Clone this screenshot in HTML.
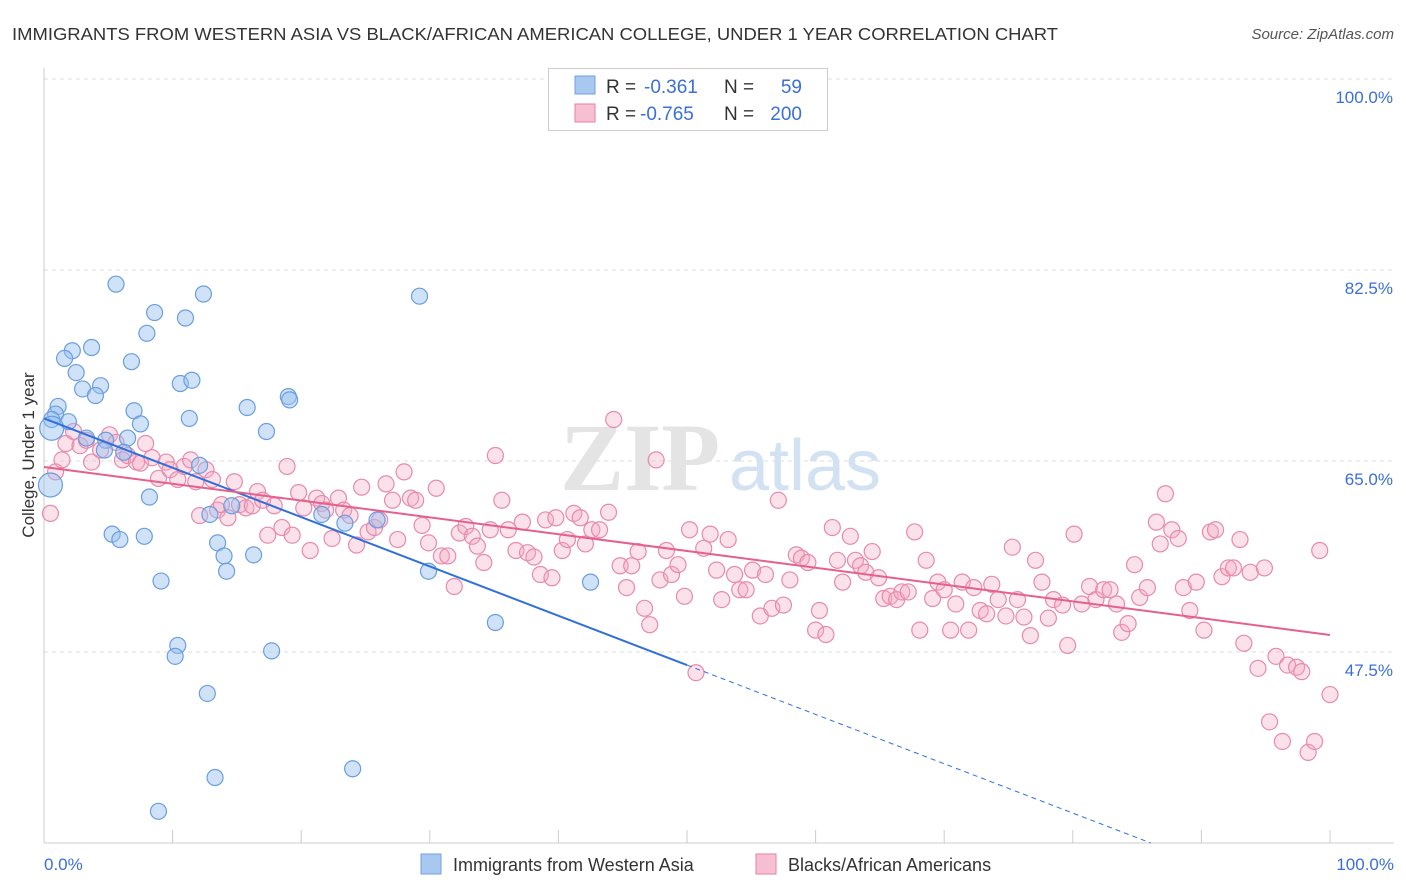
<!DOCTYPE html>
<html><head><meta charset="utf-8">
<style>
body{margin:0;background:#fff;font-family:"Liberation Sans",sans-serif;}
#wrap{position:relative;width:1406px;height:892px;overflow:hidden;}
</style></head>
<body>
<div id="wrap">
<svg id="chart" width="1406" height="892" xmlns="http://www.w3.org/2000/svg">
<text x="12" y="40" font-size="17.5" fill="#333" textLength="1046" lengthAdjust="spacingAndGlyphs">IMMIGRANTS FROM WESTERN ASIA VS BLACK/AFRICAN AMERICAN COLLEGE, UNDER 1 YEAR CORRELATION CHART</text>
<text x="1394" y="39" font-size="15" fill="#555" font-style="italic" text-anchor="end">Source: ZipAtlas.com</text>
<g id="grid"></g>
<text x="640" y="490" font-size="96" fill="#e4e4e4" font-family="Liberation Serif,serif" font-weight="bold" text-anchor="middle">ZIP</text>
<text x="805" y="490" font-size="72" fill="#d3e2f3" text-anchor="middle">atlas</text>
<g id="pts"></g>
<g id="lines"></g>
<text transform="translate(34,455) rotate(-90)" font-size="17" fill="#333" text-anchor="middle">College, Under 1 year</text>
<g>
<rect x="548.5" y="68.5" width="279" height="62" fill="#fff" stroke="#ccc"/>
<rect x="575" y="76" width="20" height="18" fill="#a9c8f0" stroke="#6fa0e0"/>
<rect x="575" y="104" width="20" height="18" fill="#f7c0d2" stroke="#e87fa3"/>
<text y="93" font-size="19" fill="#333"><tspan x="606">R = </tspan><tspan x="644" fill="#3a6fd8">-0.361</tspan><tspan x="724">N =</tspan><tspan x="802" fill="#3a6fd8" text-anchor="end">59</tspan></text>
<text y="120" font-size="19" fill="#333"><tspan x="606">R = </tspan><tspan x="640" fill="#3a6fd8">-0.765</tspan><tspan x="724">N =</tspan><tspan x="802" fill="#3a6fd8" text-anchor="end">200</tspan></text>
</g>
<g>
<rect x="421" y="854" width="20" height="20" fill="#a9c8f0" stroke="#6fa0e0"/>
<text x="453" y="871" font-size="18" fill="#333">Immigrants from Western Asia</text>
<rect x="756" y="854" width="20" height="20" fill="#f7c0d2" stroke="#e87fa3"/>
<text x="788" y="871" font-size="18" fill="#333">Blacks/African Americans</text>
</g>
</svg>
</div>
<script>
const blueX=[5.6,12.4,8.6,11.0,29.2,8.0,3.7,2.2,1.6,6.8,2.5,4.4,3.0,4.0,10.6,11.5,19.0,19.1,15.8,7.0,11.3,1.1,0.9,0.6,1.9,7.5,17.3,3.3,4.8,6.5,4.7,6.2,12.1,0.5,8.2,14.6,12.9,21.6,23.4,25.9,5.3,5.9,7.8,13.5,14.0,16.3,14.2,29.9,9.1,42.5,35.1,10.4,10.2,17.7,12.7,13.3,24.0,8.9,0.6];
const blueY=[81.2,80.3,78.6,78.1,80.1,76.7,75.4,75.1,74.4,74.1,73.1,71.9,71.6,71.0,72.1,72.4,70.9,70.6,69.9,69.6,68.9,70.0,69.3,68.8,68.6,68.4,67.7,67.1,66.9,67.1,66.0,65.8,64.6,62.8,61.7,60.9,60.1,60.1,59.3,59.6,58.3,57.8,58.1,57.5,56.3,56.4,54.9,54.9,54.0,53.9,50.2,48.1,47.1,47.6,43.7,36.0,36.8,32.9,68.0];
const pinkX=[0.5,0.9,1.4,1.7,2.3,2.8,3.3,3.7,4.4,5.1,5.6,6.1,6.5,7.2,7.5,7.9,8.4,8.9,9.5,9.8,10.4,10.9,11.4,11.8,12.1,12.6,13.1,13.5,13.8,14.3,14.8,15.2,15.7,16.2,16.6,17.0,17.4,17.9,18.5,18.9,19.3,19.8,20.2,20.7,21.2,21.6,21.9,22.4,22.9,23.3,23.8,24.3,24.7,25.2,25.7,26.1,26.6,27.1,27.5,28.0,28.5,28.9,29.4,29.9,30.5,30.9,31.4,31.9,32.3,32.8,33.3,33.7,34.2,34.7,35.1,35.6,36.1,36.7,37.2,37.6,38.1,38.6,39.0,39.5,39.8,40.3,40.7,41.2,41.7,42.1,42.6,43.2,43.9,44.3,44.8,45.3,45.7,46.2,46.7,47.1,47.6,47.9,48.4,48.8,49.3,49.8,50.2,50.7,51.3,51.8,52.3,52.7,53.2,53.7,54.1,54.6,55.1,55.7,56.1,56.6,57.1,57.5,58.0,58.5,58.9,59.4,60.0,60.3,60.8,61.3,61.7,62.1,62.7,63.1,63.5,63.9,64.4,64.9,65.3,65.8,66.3,66.7,67.2,67.7,68.1,68.6,69.1,69.5,70.0,70.5,70.9,71.4,71.9,72.3,72.8,73.3,73.7,74.2,74.8,75.3,75.7,76.2,76.7,77.1,77.6,78.1,78.5,79.2,79.6,80.1,80.7,81.3,81.8,82.4,82.9,83.4,83.8,84.3,84.8,85.2,85.8,86.5,86.8,87.2,87.7,88.2,88.6,89.1,89.6,90.2,90.7,91.1,91.6,92.1,92.5,93.0,93.3,93.8,94.4,94.9,95.3,95.8,96.3,96.7,97.4,97.8,98.3,98.8,99.2,100.0];
const pinkY=[60.2,64.0,65.1,66.6,67.7,66.4,66.9,64.9,66.0,67.4,66.7,65.1,65.5,64.9,64.8,66.6,65.3,63.4,64.9,64.2,63.3,64.5,65.1,63.1,60.0,64.2,63.3,60.5,61.0,59.8,63.1,61.0,60.7,60.9,62.2,61.4,58.2,60.9,58.9,64.5,58.2,62.1,60.7,56.8,61.6,61.1,60.5,57.9,61.6,60.5,60.0,57.3,62.6,58.5,58.9,59.6,62.9,61.4,57.8,64.0,61.6,61.4,59.1,57.5,62.5,56.3,56.3,53.5,58.4,59.0,58.1,57.2,55.7,58.7,65.5,61.4,58.7,56.8,59.4,56.6,56.2,54.6,59.6,54.3,59.8,56.8,57.8,60.2,59.8,57.4,58.7,58.7,60.3,68.8,55.4,53.4,55.4,56.7,51.5,50.0,65.1,54.1,56.8,54.6,55.5,52.6,58.7,45.6,57.0,58.3,55.0,52.3,57.8,54.6,53.2,53.2,55.0,50.8,54.6,51.5,61.4,51.8,54.1,56.4,56.1,55.7,49.5,51.3,49.1,58.9,55.9,53.9,58.1,55.9,55.4,54.8,56.7,54.3,52.4,52.6,52.3,53.0,53.0,58.5,49.5,55.9,52.4,53.9,53.2,49.5,51.9,53.9,49.5,53.4,51.3,51.0,53.7,52.3,50.8,57.1,52.3,50.7,49.0,55.9,53.9,50.6,52.3,51.8,48.1,58.3,51.9,53.5,52.3,53.2,53.2,51.9,49.3,50.1,55.5,52.5,53.4,59.4,57.4,62.0,58.7,57.9,53.4,51.3,53.9,49.5,58.5,58.7,54.4,55.2,55.2,57.8,48.3,54.8,46.0,55.2,41.1,47.1,39.3,46.3,46.1,45.7,38.3,39.3,56.8,43.6];
const yTicks=[100,82.5,65,47.5];
const yTickLabels=["100.0%","82.5%","65.0%","47.5%"];
const xTicks=[0,10,20,30,40,50,60,70,80,90,100];
const blueTrend=[68.9,-0.452];
const pinkTrend=[64.45,-0.1539];
const X0=44,X1=1330,YTOP=79,PXPERPCT=10.914;
function sx(v){return X0+(X1-X0)*v/100;}
function sy(v){return YTOP+(100-v)*PXPERPCT;}
const NS="http://www.w3.org/2000/svg";
function mk(tag,attrs,parent){const e=document.createElementNS(NS,tag);for(const k in attrs)e.setAttribute(k,attrs[k]);parent.appendChild(e);return e;}
const grid=document.getElementById('grid');
yTicks.forEach((t,i)=>{
  const l=mk('line',{x1:44,x2:1394,y1:sy(t),y2:sy(t),stroke:'#ddd','stroke-dasharray':'4,4'},grid);
  
  
  const tx=mk('text',{x:1393,y:sy(t)+24,'font-size':17,fill:'#3a6fd8','text-anchor':'end'},grid);
  tx.textContent=yTickLabels[i];
  
  
});
const ax=mk('line',{x1:44,x2:1394,y1:843,y2:843,stroke:'#ccc'},grid);


const ay=mk('line',{x1:44,x2:44,y1:68,y2:843,stroke:'#ccc'},grid);


xTicks.forEach(t=>{
  const l=mk('line',{x1:sx(t),x2:sx(t),y1:830,y2:843,stroke:'#ccc'},grid);
  
  
});
const xl=mk('text',{x:44,y:870,'font-size':17,fill:'#3a6fd8'},grid);xl.textContent='0.0%';


const xr=mk('text',{x:1394,y:870,'font-size':17,fill:'#3a6fd8','text-anchor':'end'},grid);xr.textContent='100.0%';


const pts=document.getElementById('pts');
pinkX.forEach((x,i)=>{
  const c=mk('circle',{cx:sx(x),cy:sy(pinkY[i]),r:8,fill:'rgba(244,170,196,0.35)',stroke:'#e88aab','stroke-width':1.2},pts);
  
  
});
blueX.forEach((x,i)=>{
  const big=(i===33||i===58);
  const c=mk('circle',{cx:sx(x),cy:sy(blueY[i]),r:big?12:8,fill:'rgba(150,190,240,0.45)',stroke:'#6a9ee0','stroke-width':1.2},pts);
  
  
});
const lines=document.getElementById('lines');
function ty(tr,x){return tr[0]+tr[1]*x;}
const b1=mk('line',{x1:sx(0),y1:sy(ty(blueTrend,0)),x2:sx(50),y2:sy(ty(blueTrend,50)),stroke:'#2f6fdc','stroke-width':2},lines);


const xEnd=(30-blueTrend[0])/blueTrend[1];
const b2=mk('line',{x1:sx(50),y1:sy(ty(blueTrend,50)),x2:sx(xEnd),y2:sy(30),stroke:'#2f6fdc','stroke-width':1,'stroke-dasharray':'5,4'},lines);


const p1=mk('line',{x1:sx(0),y1:sy(ty(pinkTrend,0)),x2:sx(100),y2:sy(ty(pinkTrend,100)),stroke:'#e5608c','stroke-width':2},lines);


</script>
</body></html>
